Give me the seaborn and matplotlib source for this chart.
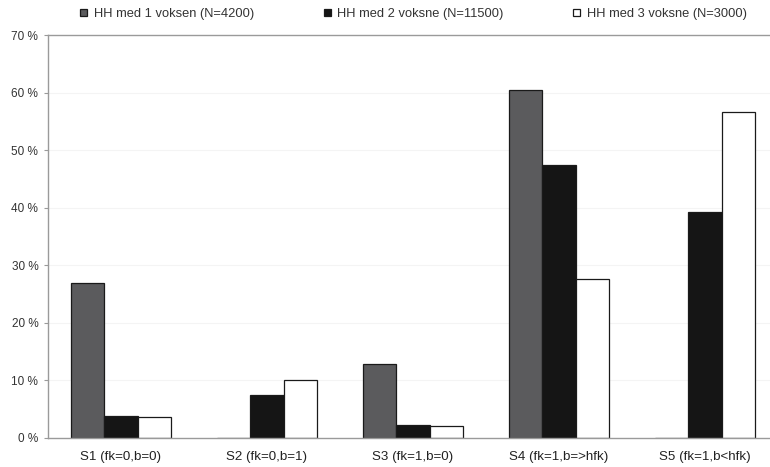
import matplotlib
matplotlib.use("Agg")
import matplotlib.pyplot as plt
import seaborn as sns
import pandas as pd
from matplotlib.ticker import FuncFormatter

categories = ["S1 (fk=0,b=0)", "S2 (fk=0,b=1)", "S3 (fk=1,b=0)",
              "S4 (fk=1,b=>hfk)", "S5 (fk=1,b<hfk)"]
series_names = ["HH med 1 voksen (N=4200)", "HH med 2 voksne (N=11500)",
                "HH med 3 voksne (N=3000)"]
one_adult = [26.9, 0, 12.8, 60.4, 0]
two_adults = [3.8, 7.5, 2.2, 47.4, 39.3]
three_adults = [3.6, 10.1, 2.1, 27.6, 56.7]
y_ticks = [0, 10, 20, 30, 40, 50, 60, 70]

rows = []
for name, vals in zip(series_names, [one_adult, two_adults, three_adults]):
    for cat, v in zip(categories, vals):
        rows.append({"category": cat, "series": name, "value": v})
df = pd.DataFrame(rows)

sns.set_style("white")
plt.rcParams["font.family"] = ["Liberation Sans", "DejaVu Sans"]

fig = plt.figure(figsize=(7.7, 4.67), dpi=100)
ax = fig.add_axes([48 / 770, 29 / 467, (778 - 48) / 770, (438 - 35) / 467])

palette = {series_names[0]: "#5b5b5d", series_names[1]: "#151515",
           series_names[2]: "#ffffff"}
sns.barplot(data=df, x="category", y="value", hue="series", order=categories,
            hue_order=series_names, palette=palette, width=0.68,
            edgecolor="#1a1a1a", linewidth=0.9, saturation=1, ax=ax,
            legend=True)

ax.set_ylim(0, 70)
ax.set_xlim(-0.5, 4.5)
ax.set_yticks(y_ticks)
ax.yaxis.set_major_formatter(FuncFormatter(lambda v, p: f"{int(v)} %"))
ax.set_xlabel("")
ax.set_ylabel("")
for y in y_ticks[1:-1]:
    ax.axhline(y, color="#f4f4f4", linewidth=0.8, zorder=0)

for side in ["left", "bottom", "top"]:
    ax.spines[side].set_visible(True)
    ax.spines[side].set_color("#9a9a9a")
    ax.spines[side].set_linewidth(1.0)
ax.spines["right"].set_visible(False)

ax.tick_params(axis="y", left=True, length=3, width=0.8, color="#9a9a9a",
               labelsize=8.5, labelcolor="#333333", pad=4)
ax.tick_params(axis="x", bottom=False, labelsize=9.6, labelcolor="#222222",
               pad=6)

handles, labels = ax.get_legend_handles_labels()
ax.legend_.remove()
leg = fig.legend(handles, labels, ncol=3, loc="center",
                 bbox_to_anchor=(0.537, 0.97), frameon=False, fontsize=9.3,
                 handlelength=0.55, handleheight=0.55, handletextpad=0.5,
                 columnspacing=5.4, labelcolor="#333333")

fig.savefig("out.png", dpi=100)
